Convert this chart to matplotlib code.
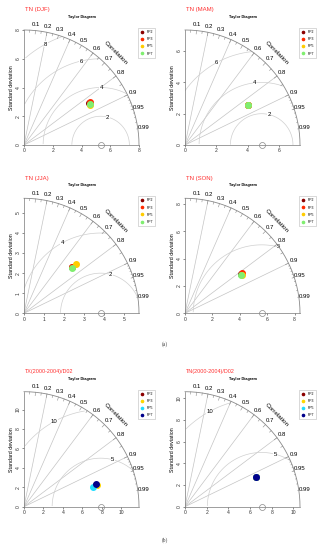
import numpy as np
import matplotlib.pyplot as plt

plt.rcParams['font.family'] = ['Liberation Sans', 'DejaVu Sans']

titles = ['TN (DJF)', 'TN (MAM)', 'TN (JJA)', 'TN (SON)',
          'TX(2000-2004)/D02', 'TN(2000-2004)/D02']
ref_sd = [5.33, 4.9, 3.82, 5.6, 7.9, 7.06]
max_sd = [8.0, 7.35, 5.73, 8.4, 11.85, 10.6]
rms_levels = [[2, 4, 6, 8], [2, 4, 6], [2, 4], [5], [5, 10], [5, 10]]
sd_ticks = [[0, 2, 4, 6, 8], [0, 2, 4, 6], [0, 1, 2, 3, 4, 5],
            [0, 2, 4, 6, 8], [0, 2, 4, 6, 8, 10], [0, 2, 4, 6, 8, 10]]
models = ['PP2', 'PP3', 'PP5', 'PP7']
colors_a = ['#8b0000', '#ff2a00', '#ffcc00', '#80ee70']
colors_b = ['#8b0000', '#ffd700', '#22ddff', '#00008b']

# model standard deviation and correlation per panel (PP2, PP3, PP5, PP7)
model_sd = [[5.42, 5.48, 5.385, 5.38],
            [4.78, 4.80, 4.77, 4.77],
            [3.32, 3.345, 3.54, 3.28],
            [5.04, 5.07, 4.99, 4.965],
            [7.79, 7.85, 7.45, 7.75],
            [7.10, 7.10, 7.10, 7.10]]
model_cor = [[0.839, 0.834, 0.854, 0.849],
             [0.845, 0.844, 0.848, 0.847],
             [0.718, 0.717, 0.726, 0.722],
             [0.818, 0.815, 0.828, 0.830],
             [0.956, 0.959, 0.961, 0.955],
             [0.920, 0.920, 0.920, 0.920]]

corr_labels = [0.1, 0.2, 0.3, 0.4, 0.5, 0.6, 0.7, 0.8, 0.9, 0.95, 0.99]
corr_lines = [0.2, 0.4, 0.6, 0.8, 0.9]


def taylor(ax, title, ref, maxsd, gam, ticks, sds, cors, cols):
    # correlation rays
    for c in corr_lines:
        ax.plot([0, maxsd * c], [0, maxsd * np.sqrt(1 - c * c)],
                color='#c4c4c4', lw=0.5, zorder=1)
    # centred RMS difference contours
    t = np.arange(0, np.pi, 0.03)
    pos = np.linspace(45, 70, len(gam)).astype(int) - 1
    for g, p in zip(gam, pos):
        xc = ref + g * np.cos(t)
        yc = g * np.sin(t)
        ok = (xc >= 0) & (xc ** 2 + yc ** 2 <= maxsd ** 2)
        ax.plot(np.where(ok, xc, np.nan), np.where(ok, yc, np.nan),
                color='#cfcfcf', lw=0.5, zorder=1)
        if xc[p] > 0:
            ax.text(xc[p], yc[p], str(g), ha='center', va='center', fontsize=4.3,
                    zorder=2, bbox=dict(fc='white', ec='none', pad=0.2))
    # outer arc with ticks
    th = np.linspace(0, np.pi / 2, 200)
    ax.plot(maxsd * np.cos(th), maxsd * np.sin(th), color='#8a8a8a', lw=0.6,
            clip_on=False, zorder=2)
    for cset, frac in [(np.arange(0.1, 0.95, 0.1), 0.97),
                       (np.arange(0.05, 1.0, 0.1), 0.98),
                       (np.arange(0.91, 1.0, 0.01), 0.99)]:
        for c in cset:
            s = np.sqrt(1 - c * c)
            ax.plot([maxsd * c, frac * maxsd * c], [maxsd * s, frac * maxsd * s],
                    color='#8a8a8a', lw=0.4, clip_on=False, zorder=2)
    for c in corr_labels:
        ax.text(1.05 * maxsd * c, 1.05 * maxsd * np.sqrt(1 - c * c), str(c),
                ha='center', va='center', fontsize=4.3)
    ax.text(0.8 * maxsd, 0.8 * maxsd, 'Correlation', rotation=-45,
            ha='center', va='center', fontsize=4.6)
    # reference point
    ax.plot(ref, 0, 'o', mfc='none', mec='#888888', mew=0.5, ms=4.3,
            clip_on=False, zorder=4)
    # models
    for name, sd, cr, col in zip(models, sds, cors, cols):
        ax.plot(sd * cr, sd * np.sqrt(1 - cr * cr), 'o', color=col, ms=4,
                label=name, clip_on=False, zorder=5)

    ax.set_xlim(0, maxsd)
    ax.set_ylim(0, maxsd)
    ax.set_xticks(ticks)
    ax.set_yticks(ticks)
    ax.set_yticklabels([str(v) for v in ticks], rotation=90, va='center')
    ax.tick_params(labelsize=3.6, length=1.7, width=0.4, pad=0.8,
                   colors='#333333')
    for sp in ['top', 'right']:
        ax.spines[sp].set_visible(False)
    for sp in ['left', 'bottom']:
        ax.spines[sp].set_color('#777777')
        ax.spines[sp].set_linewidth(0.5)
    ax.set_ylabel('Standard deviation', fontsize=3.8)
    ax.yaxis.set_label_coords(-0.085, 0.5)
    ax.set_facecolor('none')

    ax.text(0.01, 1.174, title, transform=ax.transAxes, color='#ff3030',
            fontsize=4.3 if len(title) < 10 else 3.9, ha='left', va='center')
    ax.text(0.5, 1.113, 'Taylor Diagram', transform=ax.transAxes,
            fontsize=2.8, fontweight='bold', ha='center', va='center')
    leg = ax.legend(loc='upper left', bbox_to_anchor=(0.99, 1.017), fontsize=2.5,
                    frameon=True, fancybox=False, markerscale=0.4,
                    handlelength=1.2, handletextpad=0.8, borderpad=0.6,
                    labelspacing=0.9, borderaxespad=0)
    leg.get_frame().set_edgecolor('#aaaaaa')
    leg.get_frame().set_linewidth(0.4)


fig = plt.figure(figsize=(3.22, 5.5), dpi=100)
W, H = 322, 550
origins = [(24, 145), (185, 145), (24, 313.3), (185, 313.3), (24, 506.7), (185, 506.7)]
for i, (ox, oy) in enumerate(origins):
    ax = fig.add_axes([ox / W, (H - oy) / H, 115 / W, 115 / H])
    cols = colors_a if i < 4 else colors_b
    taylor(ax, titles[i], ref_sd[i], max_sd[i], rms_levels[i], sd_ticks[i],
           model_sd[i], model_cor[i], cols)

fig.text(165 / W, 1 - 344 / H, '(a)', ha='center', va='center', fontsize=4,
         family='Liberation Serif', color='#444444')
fig.text(165 / W, 1 - 540 / H, '(b)', ha='center', va='center', fontsize=4,
         family='Liberation Serif', color='#444444')

fig.savefig('out.png', dpi=100)
